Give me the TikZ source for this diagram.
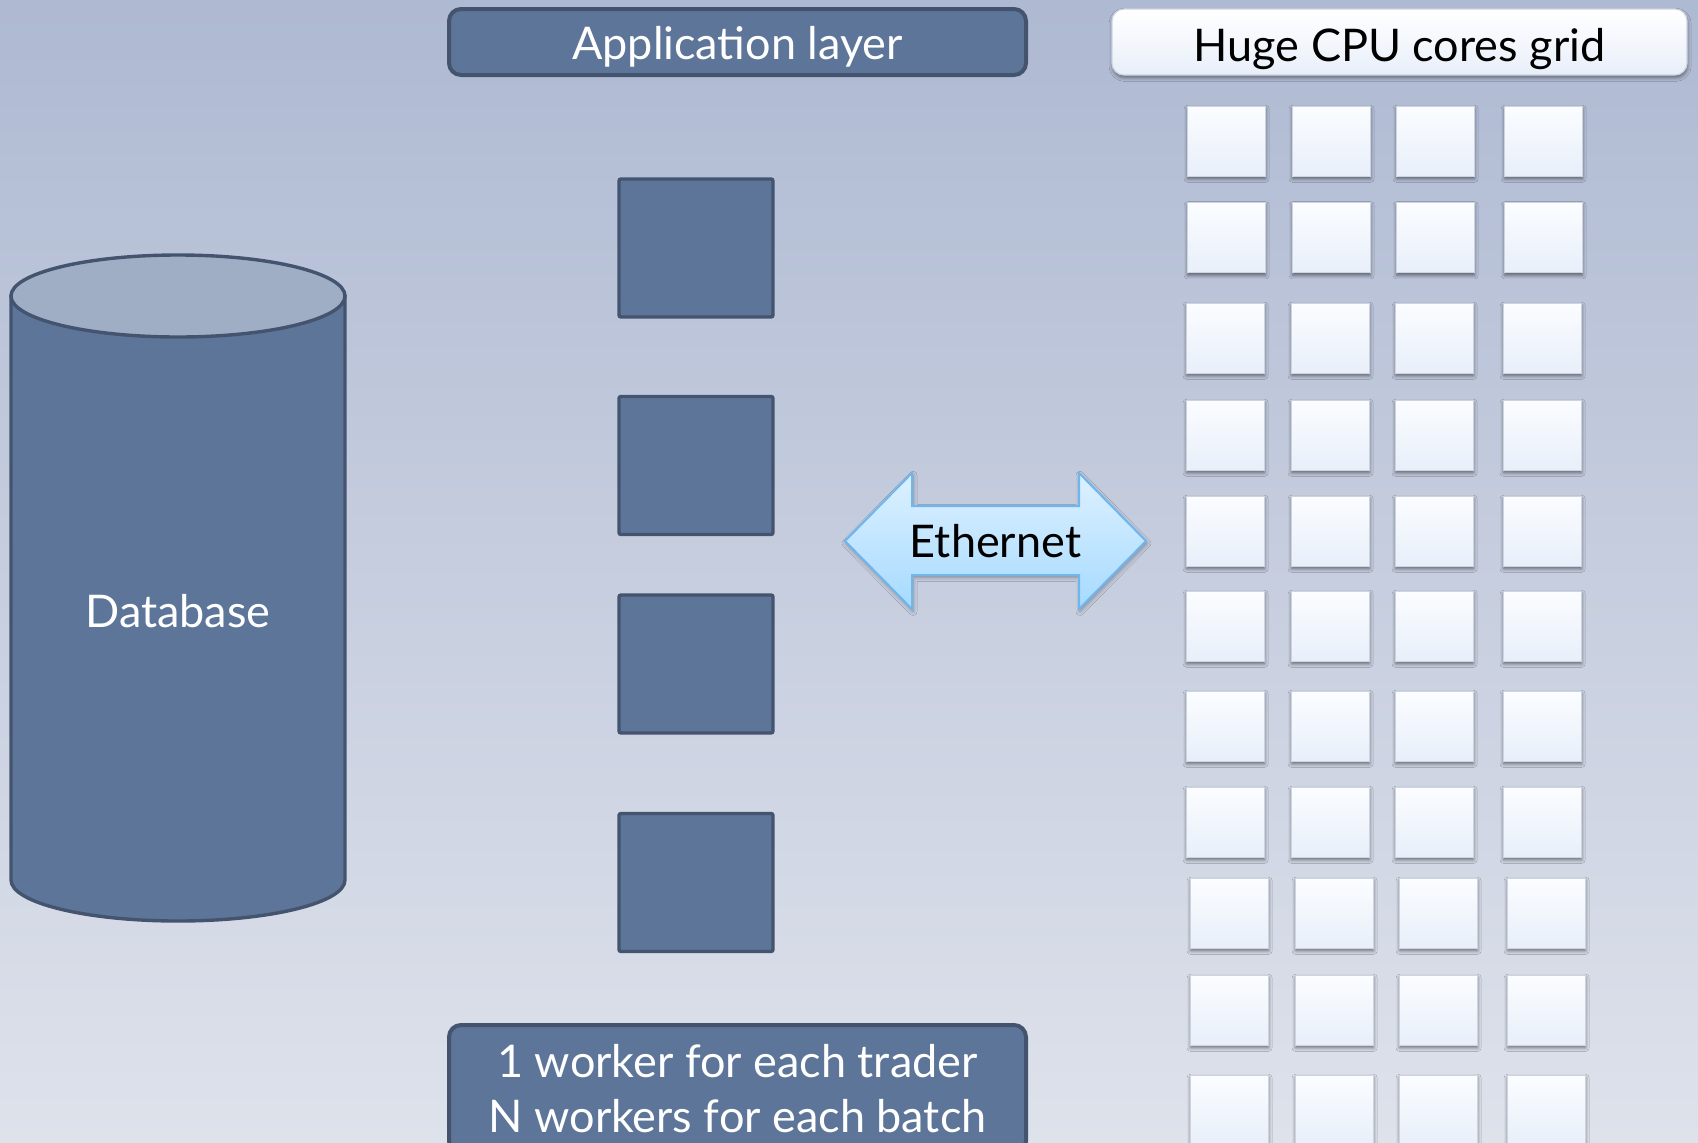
\documentclass[tikz,border=0pt]{standalone}
\usepackage{fontspec}
\setmainfont{Lato}
\usetikzlibrary{shadows.blur}

\definecolor{bgtop}{HTML}{AEB9D2}
\definecolor{bgbot}{HTML}{DEE2EB}
\definecolor{boxfill}{HTML}{5D7599}
\definecolor{boxline}{HTML}{44546F}
\definecolor{dbtop}{HTML}{9FAEC4}
\definecolor{coretop}{HTML}{FBFDFF}
\definecolor{corebot}{HTML}{E8EFFA}
\definecolor{coreline}{HTML}{CDD4DF}
\definecolor{ethtop}{HTML}{DDF1FF}
\definecolor{ethbot}{HTML}{A6DAFF}
\definecolor{ethline}{HTML}{6FB5EE}

\begin{document}
\begin{tikzpicture}[
  x=0.5pt, y=-0.5pt,
  every node/.style={font=\fontsize{22.5}{27.5}\selectfont},
  darkbox/.style={draw=boxline, line width=2pt, fill=boxfill, rounded corners=6pt,
    text=white, inner sep=0pt},
  worker/.style={draw=boxline, line width=1.7pt, fill=boxfill, rounded corners=1pt,
    minimum width=77pt, minimum height=69pt, inner sep=0pt},
  core/.style={draw=coreline, line width=0.5pt, top color=coretop, bottom color=corebot,
    minimum width=39pt, minimum height=35pt, inner sep=0pt,
    blur shadow={shadow xshift=0.3pt, shadow yshift=-1.4pt, shadow blur radius=1.8pt,
      shadow opacity=50}},
  titlebox/.style={draw=coreline, line width=0.6pt, top color=white, bottom color=corebot,
    rounded corners=6pt, inner sep=0pt, text=black,
    blur shadow={shadow xshift=0.3pt, shadow yshift=-1.4pt, shadow blur radius=1.8pt,
      shadow opacity=45}},
  ethshape/.style={draw=ethline, line width=1pt, top color=ethtop, bottom color=ethbot,
    line join=miter,
    blur shadow={shadow xshift=0.5pt, shadow yshift=-1.2pt, shadow blur radius=2pt,
      shadow opacity=35}},
  dbbody/.style={draw=boxline, line width=1.7pt, fill=boxfill},
  dbcap/.style={draw=boxline, line width=1.7pt, fill=dbtop}
]

% page and background
\useasboundingbox (0,0) rectangle (1698,1142);
\fill[top color=bgtop, bottom color=bgbot] (0,0) rectangle (1698,1142);

% database cylinder
\draw[dbbody] (11,296) -- (11,880)
  arc[start angle=180, end angle=0, x radius=167, y radius=41] -- (345,296) -- cycle;
\draw[dbcap] (178,296) ellipse [x radius=167, y radius=41];
\node[text=white] (db) at (178,611) {Database};

% application layer
\node[darkbox, text height=18pt, text depth=0.4pt, minimum width=288.5pt, minimum height=33pt]
  (app) at (737.5,42) {Application layer};
\node[worker] (w1) at (696,248) {};
\node[worker] (w2) at (696,465.5) {};
\node[worker] (w3) at (696,664) {};
\node[worker] (w4) at (696,882.5) {};
\node[darkbox, minimum width=288.5pt, minimum height=64pt, align=center] (note) at (737.5,1089)
  {1 worker for each trader\\N workers for each batch};

% network link
\draw[ethshape] (845,541) -- (912,473) -- (912,506) -- (1079,506) -- (1079,473)
  -- (1146,541) -- (1079,609) -- (1079,575) -- (912,575) -- (912,609) -- cycle;
\node (eth) at (995.5,541) {Ethernet};

% CPU grid
\node[titlebox, text height=19pt, text depth=0pt, minimum width=287.5pt, minimum height=33pt]
  (grid) at (1399.5,42) {Huge CPU cores grid};
\foreach \r/\y/\dx in {1/141/0, 2/237.5/0, 3/338/-1, 4/435/-1, 5/531/-1, 6/626/-1,
                       7/726/-1, 8/822/-1, 9/913/3, 10/1010/3, 11/1110/3}
  \foreach \c/\x in {1/1226, 2/1331, 3/1435, 4/1543}
    \node[core] (core-\r-\c) at (\x+\dx,\y) {};

\end{tikzpicture}
\end{document}
